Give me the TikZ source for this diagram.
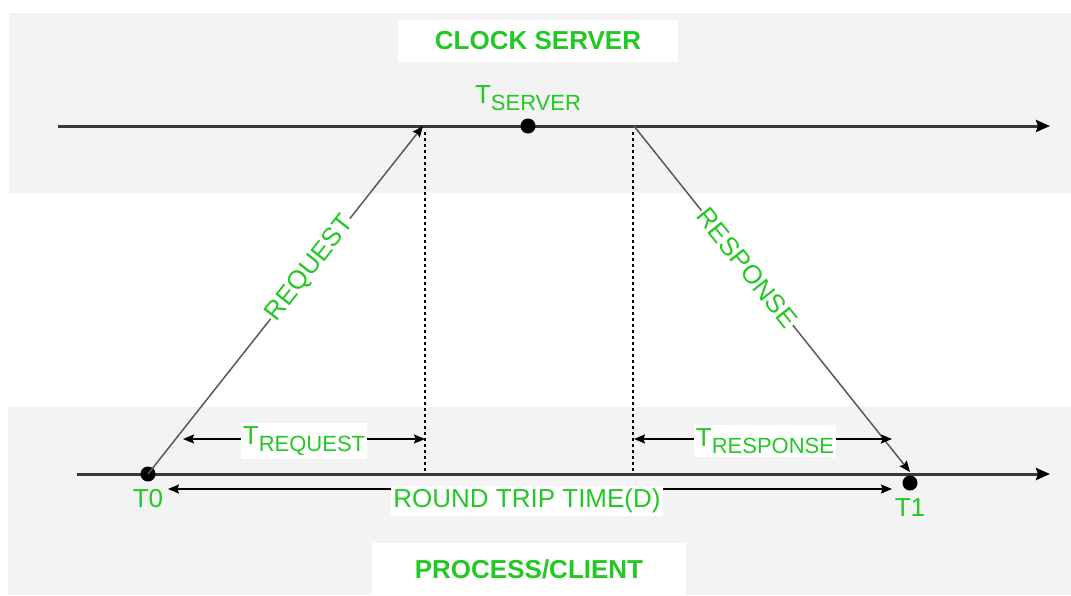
\documentclass[tikz,border=0pt]{standalone}
\usepackage{fontspec}
\setmainfont{Liberation Sans}
\usetikzlibrary{arrows.meta}
\definecolor{bandgray}{RGB}{243,243,243}
\definecolor{labelgreen}{RGB}{36,200,36}
\newcommand{\subtxt}[1]{\raisebox{-7.5pt}{\fontsize{22}{24}\selectfont #1}}
\begin{document}
\begin{tikzpicture}[x=1pt,y=-1pt,
  timeline/.style={draw=black!78, line width=3pt, -{Stealth[length=14pt,width=12pt,inset=2pt,color=black]}},
  msg/.style={draw=black!65, line width=1.5pt, -{Stealth[length=11pt,width=9pt,inset=1.5pt,color=black]}},
  dimarrow/.style={draw=black, line width=1.5pt, -{Stealth[length=11pt,width=9pt,inset=1.5pt]}},
  guide/.style={draw=black, line width=1.6pt, dash pattern=on 3pt off 3pt},
  txt/.style={text=labelgreen, font=\fontsize{26}{30}\selectfont, inner sep=2pt},
  boxed/.style={txt, fill=white, inner xsep=2pt, inner ysep=3pt},
  titlebox/.style={fill=white, text=labelgreen, font=\fontsize{26}{30}\selectfont\bfseries},
  dot/.style={circle, fill=black, inner sep=0pt, minimum size=15pt}]

\useasboundingbox (0,0) rectangle (1071,595);
\fill[white] (0,0) rectangle (1071,595);

% grey bands for the two machines
\fill[bandgray] (9,13) rectangle (1071,193);
\fill[bandgray] (8,407) rectangle (1071,595);

% headings
\node[titlebox, minimum width=280pt, minimum height=42pt] (server) at (538,41) {CLOCK SERVER};
\node[titlebox, minimum width=314pt, minimum height=52pt] (client) at (529,569) {PROCESS/CLIENT};

% time lines
\coordinate (sL) at (58,126);
\coordinate (sR) at (1050,126);
\coordinate (cL) at (77,474);
\coordinate (cR) at (1050,474);
\draw[timeline] (sL) -- (sR);
\draw[timeline] (cL) -- (cR);

% request / response end points on the time lines
\coordinate (reqTop) at (423,126);
\coordinate (respTop) at (634,126);
\coordinate (respBot) at (910,472);

% dashed guides
\coordinate (gA1) at (425,132);
\coordinate (gA2) at (425,474);
\coordinate (gB1) at (633,132);
\coordinate (gB2) at (633,474);
\draw[guide] (gA1) -- (gA2);
\draw[guide] (gB1) -- (gB2);

% events
\node[dot] (t0) at (148,474) {};
\node[dot] (ts) at (528,126) {};
\node[dot] (t1) at (910,483) {};
\node[txt] (t0lbl) at (148,499) {T0};
\node[txt] (t1lbl) at (910,508) {T1};
\node[txt] (tslbl) at (528,98) {T\subtxt{SERVER}};

% messages
\draw[msg] (t0.center) -- node[sloped, pos=0.59, txt, fill=white, inner sep=1pt] (reqlbl) {REQUEST} (reqTop);
\draw[msg] (respTop) -- node[sloped, pos=0.41, txt, fill=white, inner sep=1pt] (resplbl) {RESPONSE} (respBot);

% T_request
\coordinate (rqL) at (183,439);
\coordinate (rqR) at (425,439);
\node[boxed] (treq) at (304,441) {T\subtxt{REQUEST}};
\draw[dimarrow] (treq.west |- rqL) -- (rqL);
\draw[dimarrow] (treq.east |- rqR) -- (rqR);

% T_response
\coordinate (rsL) at (634,439);
\coordinate (rsR) at (892,439);
\node[boxed] (tresp) at (765,441) {T\subtxt{RESPONSE}};
\draw[dimarrow] (tresp.west |- rsL) -- (rsL);
\draw[dimarrow] (tresp.east |- rsR) -- (rsR);

% round trip time
\coordinate (rtL) at (168,489);
\coordinate (rtR) at (892,489);
\node[boxed] (rtt) at (527,501) {ROUND TRIP TIME(D)};
\draw[dimarrow] (rtt.west |- rtL) -- (rtL);
\draw[dimarrow] (rtt.east |- rtR) -- (rtR);
\end{tikzpicture}
\end{document}
